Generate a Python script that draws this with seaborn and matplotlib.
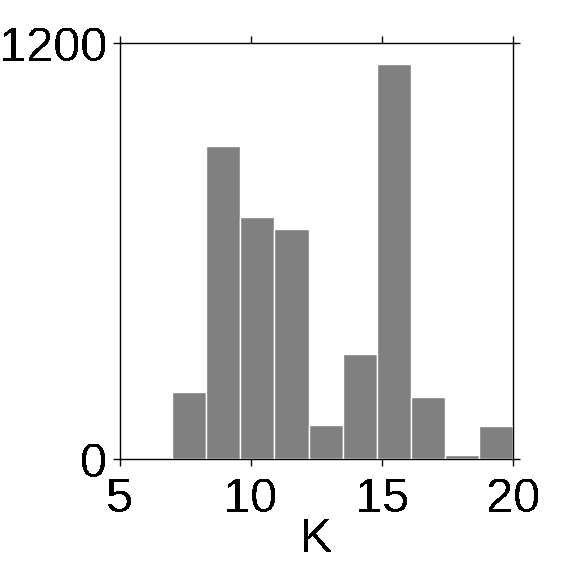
import numpy as np
import matplotlib
matplotlib.use("Agg")
import matplotlib.pyplot as plt
import seaborn as sns

# histogram of K
bin_edges = [7.0, 8.3, 9.6, 10.9, 12.2, 13.5, 14.8, 16.1, 17.4, 18.7, 20.0]
counts = [195, 904, 699, 664, 99, 305, 1141, 180, 12, 96]
x_ticks = [5, 10, 15, 20]
y_ticks = [0, 1200]

sns.set_style("ticks")
plt.rcParams["font.family"] = ["Liberation Sans", "DejaVu Sans"]
plt.rcParams["text.antialiased"] = False
plt.rcParams["text.color"] = "black"
plt.rcParams["axes.labelcolor"] = "black"

centers = [(a + b) / 2 for a, b in zip(bin_edges[:-1], bin_edges[1:])]

fig = plt.figure(figsize=(5.67, 5.67), dpi=100)
ax = fig.add_axes([0.211, 0.19, 0.694, 0.7336])

sns.histplot(x=centers, weights=counts, bins=bin_edges, color="gray",
             edgecolor="white", linewidth=1, alpha=1, zorder=3, ax=ax)

ax.set_xlim(5, 20)
ax.set_ylim(0, 1200)
ax.set_xticks(x_ticks)
ax.set_yticks(y_ticks)
ax.set_xticklabels([str(t) for t in x_ticks])
ax.set_yticklabels([str(t) for t in y_ticks])

for s in ax.spines.values():
    s.set_visible(True)
    s.set_linewidth(1)
    s.set_color("black")

ax.tick_params(axis="both", which="both", direction="out", length=5, width=1,
               labelsize=35, colors="black", top=True, right=True,
               labeltop=False, labelright=False)
ax.tick_params(axis="x", pad=8)
ax.tick_params(axis="y", pad=4)
ax.set_xlabel("K", fontsize=35, labelpad=-4, color="black")
ax.set_ylabel("")

fig.savefig("out.png", dpi=100)
